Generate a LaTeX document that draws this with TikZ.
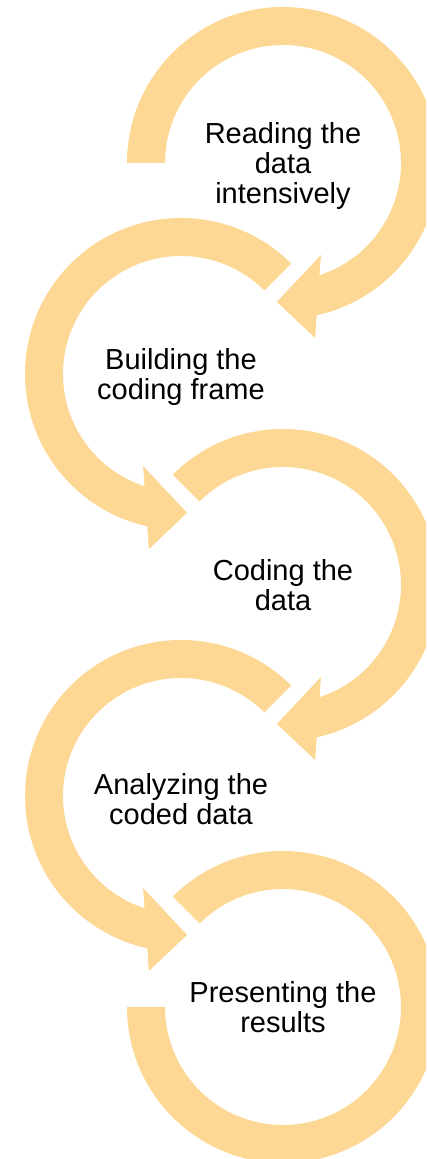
\documentclass[tikz,border=0pt]{standalone}
\usepackage{fontspec}
\setmainfont{Liberation Sans}
\usetikzlibrary{positioning}
\definecolor{loopfill}{HTML}{FDD794}

\begin{document}
\begin{tikzpicture}[x=1pt, y=1pt,
  steptext/.style={align=center, font=\fontsize{29}{30}\selectfont, inner sep=0pt},
  loopband/.style={fill=loopfill}]
  \useasboundingbox (0,0) rectangle (426,1159);
  \clip (0,0) rectangle (426,1159);

  % loop centres
  \coordinate (c1) at (283,996);
  \coordinate (c2) at (181,785);
  \coordinate (c3) at (283,574);
  \coordinate (c4) at (181,363);
  \coordinate (c5) at (283,152);

  % one label in the middle of each loop
  \node[steptext] (read)    at ([yshift=-3pt]c1) {Reading the\\data\\intensively};
  \node[steptext] (build)   at ([yshift=-3pt]c2) {Building the\\coding frame};
  \node[steptext] (code)    at (c3) {Coding the\\data};
  \node[steptext] (analyze) at ([yshift=-3pt]c4) {Analyzing the\\coded data};
  \node[steptext] (present) at (c5) {Presenting the\\results};

  % looping arrows, outer radius 156, inner 118, head at the bottom
  \foreach \c/\s/\flip in {c1/180/1, c2/135/-1, c3/135/1, c4/135/-1}
  {
    \begin{scope}[shift={(\c)}, xscale=\flip]
      \fill[loopband] (\s:156) arc[start angle=\s, end angle=-77.5, radius=156]
        -- (-79.6:178) -- (-92.5:139) -- (-67.6:99.5) -- (-72:118)
        arc[start angle=-72, end angle=\s, radius=118] -- cycle;
    \end{scope}
  }
  % last loop has no head
  \begin{scope}[shift={(c5)}]
    \fill[loopband] (135:156) arc[start angle=135, end angle=-180, radius=156]
      -- (180:118) arc[start angle=-180, end angle=135, radius=118] -- cycle;
  \end{scope}
\end{tikzpicture}
\end{document}
